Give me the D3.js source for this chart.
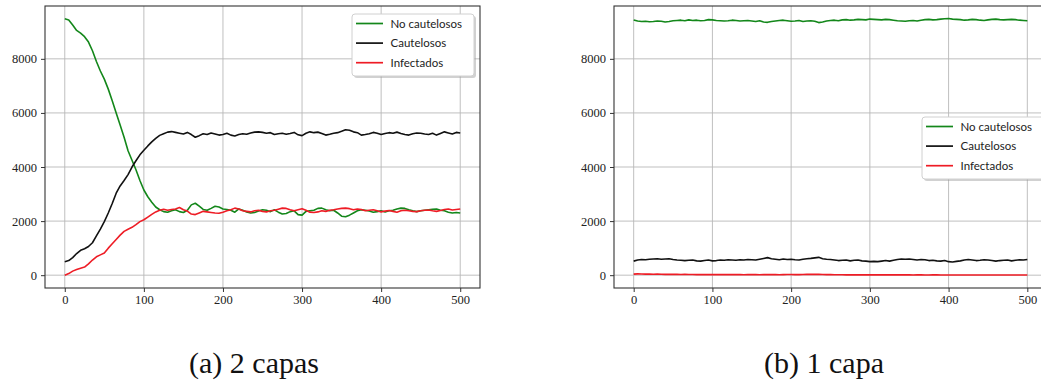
<!DOCTYPE html>
<html>
<head>
<meta charset="utf-8">
<script src="https://cdn.jsdelivr.net/npm/d3@7"></script>
<style>
  body { margin: 0; background: #fff; }
  .legend text { font-family: "Lato", sans-serif; font-size: 11.5px; fill: #222; }
  .caption { font-family: "Liberation Serif", "Times New Roman", "DejaVu Serif", serif; font-size: 30px; fill: #111; }
  .serif { font-family: "Liberation Serif", "Times New Roman", "DejaVu Serif", serif; }
</style>
</head>
<body>
<svg id="fig"></svg>
<script>
// total size of the figure
const W = 1041, H = 385;

// time steps (every 5 iterations)
const steps = d3.range(0, 501, 5);

// series names and colours
const names = ["No cautelosos", "Cautelosos", "Infectados"];
const colors = ["#13871a", "#111111", "#ee1c25"];

// (a) 2 capas
const verde2 = [
  9480, 9440, 9250, 9050, 8950, 8820, 8620, 8300, 7900, 7550,
  7250, 6880, 6450, 6000, 5550, 5100, 4600, 4250, 3900, 3500,
  3150, 2900, 2700, 2520, 2420, 2350, 2330, 2380, 2420, 2350,
  2320, 2400, 2600, 2660, 2550, 2430, 2400, 2470, 2550, 2520,
  2450, 2430, 2400, 2330, 2450, 2400, 2340, 2300, 2320, 2370,
  2420, 2400, 2350, 2420, 2330, 2260, 2280, 2350, 2380, 2240,
  2220, 2360, 2380, 2400, 2470, 2480, 2420, 2380, 2400, 2300,
  2180, 2160, 2220, 2300, 2380, 2420, 2400, 2370, 2330, 2350,
  2380, 2340, 2380, 2400, 2450, 2480, 2470, 2420, 2380, 2350,
  2380, 2400, 2420, 2440, 2450, 2400, 2380, 2330, 2300, 2320,
  2300];
const negro2 = [
  500, 540, 650, 800, 920, 980, 1060, 1200, 1450, 1700,
  1980, 2300, 2650, 3030, 3300, 3500, 3720, 4000, 4230, 4450,
  4620, 4780, 4930, 5060, 5170, 5230, 5290, 5310, 5280, 5250,
  5220, 5280, 5200, 5100, 5160, 5230, 5200, 5260, 5220, 5180,
  5200, 5250, 5180, 5150, 5200, 5230, 5210, 5260, 5290, 5300,
  5280, 5250, 5270, 5200, 5230, 5250, 5210, 5240, 5280, 5190,
  5160, 5250, 5300, 5270, 5290, 5240, 5180, 5210, 5250, 5270,
  5320, 5380, 5360, 5300, 5270, 5180, 5200, 5230, 5280, 5250,
  5200, 5240, 5270, 5250, 5290, 5240, 5200, 5180, 5230, 5260,
  5250, 5220, 5200, 5250, 5180, 5240, 5300, 5260, 5220, 5280,
  5260];
const rojo2 = [
  0, 60, 150, 210, 260, 300, 420, 560, 680, 750,
  820, 1000, 1160, 1320, 1480, 1620, 1700, 1770, 1870, 1980,
  2050, 2150, 2250, 2340, 2400, 2440, 2400, 2430, 2450, 2500,
  2420, 2370, 2260, 2240, 2300, 2360, 2340, 2320, 2300, 2290,
  2330, 2380, 2420, 2480, 2450, 2380, 2360, 2340, 2380, 2400,
  2360, 2340, 2380, 2400, 2440, 2480, 2470, 2420, 2380, 2420,
  2460, 2400, 2330, 2320, 2340, 2380, 2360, 2400, 2420, 2450,
  2470, 2480, 2460, 2420, 2450, 2430, 2380, 2400, 2420, 2380,
  2340, 2370, 2390, 2360, 2330, 2380, 2400, 2380, 2360, 2350,
  2380, 2400, 2410, 2380, 2360, 2390, 2430, 2450, 2410, 2430,
  2450];

// (b) 1 capa
const verde1 = [
  9440, 9400, 9380, 9390, 9370, 9380, 9400, 9390, 9360, 9380,
  9410, 9420, 9430, 9410, 9440, 9420, 9430, 9410, 9420, 9450,
  9440, 9420, 9410, 9400, 9410, 9430, 9420, 9400, 9410, 9420,
  9400, 9380, 9410, 9360, 9350, 9380, 9400, 9420, 9430, 9410,
  9390, 9400, 9420, 9380, 9400, 9410, 9390, 9340, 9360, 9400,
  9420, 9430, 9410, 9440, 9450, 9430, 9440, 9460, 9450, 9440,
  9470, 9460, 9450, 9440, 9460, 9450, 9430, 9410, 9400, 9390,
  9410, 9420, 9400, 9430, 9450, 9460, 9440, 9450, 9470, 9480,
  9490, 9470, 9460, 9450, 9430, 9440, 9460, 9450, 9430, 9420,
  9440, 9460, 9470, 9450, 9440, 9450, 9460, 9450, 9430, 9420,
  9410];
const negro1 = [
  520, 560, 580, 570, 590, 600, 610, 590, 600, 610,
  580, 560, 550, 540, 550, 560, 530, 520, 540, 560,
  530, 540, 560, 550, 570, 560, 550, 570, 560, 580,
  570, 560, 590, 620, 650, 610, 590, 570, 600, 580,
  590, 570, 560, 590, 610, 620, 640, 660, 610, 590,
  580, 560, 540, 550, 560, 530, 550, 560, 530, 520,
  500, 510, 500, 520, 540, 520, 550, 580, 600, 590,
  600, 580, 560, 580, 570, 540, 550, 530, 520, 540,
  500, 490, 510, 530, 560, 580, 560, 540, 550, 570,
  560, 540, 520, 540, 550, 560, 530, 550, 570, 560,
  580];
const rojo1 = [
  40, 50, 45, 40, 40, 35, 40, 35, 30, 30,
  30, 30, 25, 30, 25, 25, 20, 25, 20, 20,
  20, 20, 25, 20, 20, 20, 20, 20, 15, 20,
  20, 20, 15, 20, 20, 20, 20, 15, 20, 25,
  25, 20, 20, 25, 30, 30, 35, 30, 25, 20,
  20, 15, 15, 15, 10, 15, 10, 10, 10, 10,
  10, 10, 10, 10, 10, 10, 10, 10, 10, 10,
  10, 5, 10, 10, 5, 5, 10, 10, 5, 5,
  5, 5, 5, 5, 5, 5, 5, 5, 5, 5,
  5, 5, 5, 5, 5, 5, 5, 5, 5, 5,
  5];

const xTicks = [0, 100, 200, 300, 400, 500];
const yTicks = [0, 2000, 4000, 6000, 8000];

const svg = d3.select("#fig").attr("width", W).attr("height", H);
svg.append("rect").attr("width", W).attr("height", H).attr("fill", "#fff");

// one subfigure: axes box, grid, lines, legend and caption
function panel(p) {
  const x = d3.scaleLinear().domain([-25, 525]).range([p.left, p.right]);
  const y = d3.scaleLinear().domain([-474, 9954]).range([p.bottom, p.top]);
  const g = svg.append("g");

  // clip to axes area
  const clipId = "clip" + p.id;
  g.append("clipPath").attr("id", clipId).append("rect")
    .attr("x", p.left).attr("y", p.top)
    .attr("width", p.right - p.left).attr("height", p.bottom - p.top);

  // grid
  g.append("g").selectAll("line").data(xTicks).enter().append("line")
    .attr("x1", d => x(d)).attr("x2", d => x(d))
    .attr("y1", p.top).attr("y2", p.bottom)
    .attr("stroke", "#b8b8b8").attr("stroke-width", 0.9);
  g.append("g").selectAll("line").data(yTicks).enter().append("line")
    .attr("x1", p.left).attr("x2", p.right)
    .attr("y1", d => y(d)).attr("y2", d => y(d))
    .attr("stroke", "#b8b8b8").attr("stroke-width", 0.9);

  // axes
  const xa = g.append("g").attr("transform", "translate(0," + p.bottom + ")")
    .call(d3.axisBottom(x).tickValues(xTicks).tickSize(4).tickPadding(3));
  const ya = g.append("g").attr("transform", "translate(" + p.left + ",0)")
    .call(d3.axisLeft(y).tickValues(yTicks).tickSize(4).tickPadding(4).tickFormat(d3.format("d")));
  [xa, ya].forEach(a => {
    a.select(".domain").remove();
    a.attr("font-family", null).attr("font-size", null);
    a.selectAll(".tick line").attr("stroke", "#333");
    a.selectAll(".tick text").attr("class", "serif")
      .style("font-size", "12.5px").attr("fill", "#222");
  });

  // lines
  const line = d3.line().x((d, i) => x(steps[i])).y(d => y(d));
  p.series.forEach((s, k) => {
    g.append("path").datum(s)
      .attr("clip-path", "url(#" + clipId + ")")
      .attr("fill", "none")
      .attr("stroke", colors[k])
      .attr("stroke-width", 1.6)
      .attr("stroke-linejoin", "round")
      .attr("d", line);
  });

  // frame
  g.append("rect")
    .attr("x", p.left).attr("y", p.top)
    .attr("width", p.right - p.left).attr("height", p.bottom - p.top)
    .attr("fill", "none").attr("stroke", "#333").attr("stroke-width", 1.1);

  // legend
  const lg = g.append("g").attr("class", "legend")
    .attr("transform", "translate(" + p.legX + "," + p.legY + ")");
  lg.append("rect").attr("x", 2).attr("y", 2).attr("width", 122).attr("height", 62)
    .attr("rx", 3).attr("fill", "#999").attr("opacity", 0.45);
  lg.append("rect").attr("width", 122).attr("height", 62).attr("rx", 3)
    .attr("fill", "#fff").attr("stroke", "#d0d0d0").attr("stroke-width", 1);
  names.forEach((n, k) => {
    const yy = 9.5 + k * 19.6;
    lg.append("line").attr("x1", 4).attr("x2", 31).attr("y1", yy).attr("y2", yy)
      .attr("stroke", colors[k]).attr("stroke-width", 1.7);
    lg.append("text").attr("x", 38.5).attr("y", yy + 4).text(n);
  });

  // caption
  svg.append("text").attr("class", "caption")
    .attr("x", p.capX).attr("y", 373).attr("text-anchor", "middle")
    .text(p.caption);
}

panel({ id: "a", left: 45, right: 480, top: 6, bottom: 288,
  series: [verde2, negro2, rojo2], legX: 352, legY: 14,
  capX: 254, caption: "(a) 2 capas" });
panel({ id: "b", left: 614, right: 1047, top: 6, bottom: 288,
  series: [verde1, negro1, rojo1], legX: 922, legY: 117,
  capX: 824, caption: "(b) 1 capa" });
</script>
</body>
</html>
